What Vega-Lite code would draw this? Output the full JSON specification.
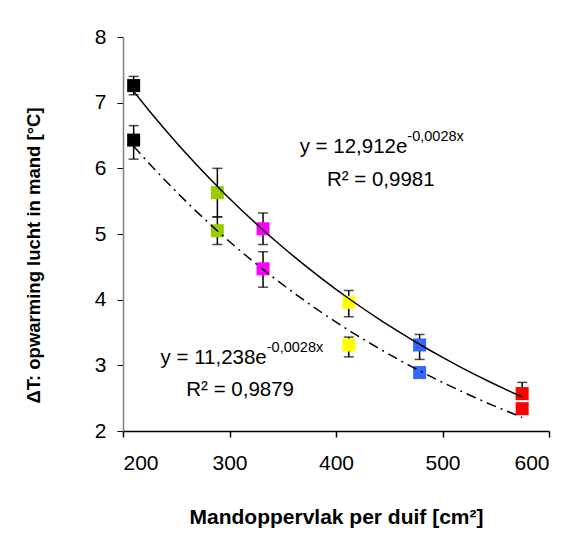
{
  "$schema": "https://vega.github.io/schema/vega-lite/v6.json",
  "width": 426,
  "height": 394,
  "autosize": {"type": "none"},
  "padding": {"left": 123, "top": 37, "right": 19, "bottom": 104},
  "background": "white",
  "config": {
    "font": "Liberation Sans",
    "view": {"stroke": null},
    "axis": {"grid": false, "labelFont": "Liberation Sans", "titleFont": "Liberation Sans", "labelFontSize": 21, "titleFontSize": 21, "labelColor": "black", "titleColor": "black", "tickSize": 6}
  },
  "datasets": {
    "pts": [
      {"x": 210, "y": 7.26, "lo": 7.12, "hi": 7.40, "serie": "hoog", "groep": "210"},
      {"x": 288.6, "y": 5.63, "lo": 5.26, "hi": 6.0, "serie": "hoog", "groep": "289"},
      {"x": 331.5, "y": 5.08, "lo": 4.84, "hi": 5.32, "serie": "hoog", "groep": "332"},
      {"x": 412, "y": 3.96, "lo": 3.74, "hi": 4.14, "serie": "hoog", "groep": "412"},
      {"x": 478.5, "y": 3.31, "lo": 3.09, "hi": 3.47, "serie": "hoog", "groep": "479"},
      {"x": 574.8, "y": 2.57, "lo": 2.50, "hi": 2.74, "serie": "hoog", "groep": "575"},
      {"x": 210, "y": 6.43, "lo": 6.14, "hi": 6.65, "serie": "laag", "groep": "210"},
      {"x": 288.6, "y": 5.05, "lo": 4.84, "hi": 5.26, "serie": "laag", "groep": "289"},
      {"x": 331.5, "y": 4.47, "lo": 4.19, "hi": 4.73, "serie": "laag", "groep": "332"},
      {"x": 412, "y": 3.31, "lo": 3.13, "hi": 3.43, "serie": "laag", "groep": "412"},
      {"x": 478.5, "y": 2.89, "lo": 2.86, "hi": 2.92, "serie": "laag", "groep": "479"},
      {"x": 574.8, "y": 2.34, "lo": 2.31, "hi": 2.37, "serie": "laag", "groep": "575"}
    ]
  },
  "layer": [
    {
      "data": {"name": "pts"},
      "mark": {"type": "rule", "color": "black", "strokeWidth": 1.5},
      "encoding": {
        "x": {"field": "x", "type": "quantitative", "scale": {"domain": [200, 600]},
          "axis": {"values": [200, 300, 400, 500, 600], "format": "d", "title": "Mandoppervlak per duif [cm²]", "titleFontWeight": "bold", "labelPadding": 15, "titlePadding": 33, "domainColor": "black", "tickColor": "black", "domainWidth": 1.5, "tickWidth": 1.5}},
        "y": {"field": "lo", "type": "quantitative", "scale": {"domain": [2, 8]},
          "axis": {"values": [2, 3, 4, 5, 6, 7, 8], "format": "d", "title": "ΔT: opwarming lucht in mand [°C]", "titleFontSize": 18.5, "titleFontWeight": "bold", "labelPadding": 11, "titleX": -80, "titleY": 218, "domainColor": "#808080", "tickColor": "black", "domainWidth": 1.5}},
        "y2": {"field": "hi"}
      }
    },
    {
      "data": {"name": "pts"},
      "mark": {"type": "tick", "color": "black", "orient": "horizontal", "size": 10, "thickness": 1.5},
      "encoding": {
        "x": {"field": "x", "type": "quantitative"},
        "y": {"field": "hi", "type": "quantitative"}
      }
    },
    {
      "data": {"name": "pts"},
      "mark": {"type": "tick", "color": "black", "orient": "horizontal", "size": 10, "thickness": 1.5},
      "encoding": {
        "x": {"field": "x", "type": "quantitative"},
        "y": {"field": "lo", "type": "quantitative"}
      }
    },
    {
      "data": {"name": "pts"},
      "mark": {"type": "square", "size": 169, "opacity": 1, "filled": true},
      "encoding": {
        "x": {"field": "x", "type": "quantitative"},
        "y": {"field": "y", "type": "quantitative"},
        "color": {"field": "groep", "type": "nominal", "legend": null,
          "scale": {"domain": ["210", "289", "332", "412", "479", "575"], "range": ["#000000", "#99CC00", "#FF00FF", "#FFFF00", "#3366FF", "#FF0000"]}}
      }
    },
    {
      "data": {"name": "pts"},
      "transform": [
        {"filter": "datum.serie === 'hoog'"},
        {"regression": "y", "on": "x", "method": "exp"}
      ],
      "mark": {"type": "line", "color": "black", "strokeWidth": 1.5},
      "encoding": {
        "x": {"field": "x", "type": "quantitative"},
        "y": {"field": "y", "type": "quantitative"}
      }
    },
    {
      "data": {"name": "pts"},
      "transform": [
        {"filter": "datum.serie === 'laag'"},
        {"regression": "y", "on": "x", "method": "exp"}
      ],
      "mark": {"type": "line", "color": "black", "strokeWidth": 1.5, "strokeDash": [10, 5, 2, 5]},
      "encoding": {
        "x": {"field": "x", "type": "quantitative"},
        "y": {"field": "y", "type": "quantitative"}
      }
    },
    {
      "data": {"values": [{"t": "y = 12,912e"}]},
      "mark": {"type": "text", "align": "right", "baseline": "middle", "fontSize": 20.5, "color": "black"},
      "encoding": {"x": {"datum": 467}, "y": {"datum": 6.32}, "text": {"field": "t"}}
    },
    {
      "data": {"values": [{"t": "-0,0028x"}]},
      "mark": {"type": "text", "align": "left", "baseline": "middle", "fontSize": 14.5, "color": "black"},
      "encoding": {"x": {"datum": 467}, "y": {"datum": 6.47}, "text": {"field": "t"}}
    },
    {
      "data": {"values": [{"t": "R² = 0,9981"}]},
      "mark": {"type": "text", "align": "center", "baseline": "middle", "fontSize": 20.5, "color": "black"},
      "encoding": {"x": {"datum": 442}, "y": {"datum": 5.82}, "text": {"field": "t"}}
    },
    {
      "data": {"values": [{"t": "y = 11,238e"}]},
      "mark": {"type": "text", "align": "right", "baseline": "middle", "fontSize": 20.5, "color": "black"},
      "encoding": {"x": {"datum": 335}, "y": {"datum": 3.11}, "text": {"field": "t"}}
    },
    {
      "data": {"values": [{"t": "-0,0028x"}]},
      "mark": {"type": "text", "align": "left", "baseline": "middle", "fontSize": 14.5, "color": "black"},
      "encoding": {"x": {"datum": 335}, "y": {"datum": 3.26}, "text": {"field": "t"}}
    },
    {
      "data": {"values": [{"t": "R² = 0,9879"}]},
      "mark": {"type": "text", "align": "center", "baseline": "middle", "fontSize": 20.5, "color": "black"},
      "encoding": {"x": {"datum": 310}, "y": {"datum": 2.62}, "text": {"field": "t"}}
    }
  ]
}
